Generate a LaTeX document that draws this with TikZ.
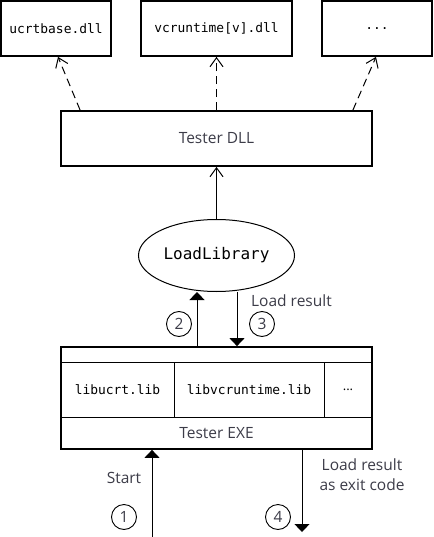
\documentclass[tikz,border=0pt]{standalone}
\usepackage{fontspec}
\setmainfont{Open Sans}
\setmonofont{DejaVu Sans Mono}
\usetikzlibrary{arrows.meta,shapes.geometric,calc}
\definecolor{txt}{RGB}{60,60,72}
\tikzset{
  box/.style={draw,line width=1.8pt,inner sep=0pt},
  lbl/.style={text=txt,font=\fontsize{15.5}{17}\selectfont,inner sep=0pt},
  code/.style={font=\ttfamily\fontsize{12.9}{15}\selectfont,inner sep=0pt},
  dep/.style={line width=1pt,dash pattern=on 8pt off 5pt,-{Straight Barb[length=9pt,width=13pt]}},
  call/.style={line width=1pt,-{Triangle[length=8pt,width=15pt]}},
  openarr/.style={line width=1pt,-{Straight Barb[length=9pt,width=13pt]}},
  num/.style={draw,circle,line width=0.9pt,minimum size=25pt,inner sep=0pt,text=txt,font=\fontsize{15.5}{17}\selectfont},
  thin/.style={line width=0.9pt}
}
\begin{document}
\begin{tikzpicture}[x=1pt,y=-1pt]
\useasboundingbox (0,0) rectangle (433,537);
% top DLLs
\node[box,minimum width=110pt,minimum height=55pt] (ucrt) at (56,28.5) {};
\node[code] (ucrtt) at (ucrt) {ucrtbase.dll};
\node[box,minimum width=151pt,minimum height=55pt] (vcr) at (216.5,28.5) {};
\node[code] (vcrt) at (vcr) {vcruntime[v].dll};
\node[box,minimum width=110pt,minimum height=55pt] (dots) at (377,28.5) {};
\node[code] (dotst) at (dots) {...};
% tester dll
\node[box,minimum width=311pt,minimum height=55pt] (dll) at (216.5,138.5) {};
\node[lbl] (dllt) at (dll) {Tester DLL};
\draw[dep] ([xshift=20pt]dll.north west) -- ([xshift=2pt]ucrt.south);
\draw[dep] (dll.north) -- (vcr.south);
\draw[dep] ([xshift=-20pt]dll.north east) -- ([xshift=-1pt]dots.south);
% LoadLibrary
\node[draw,ellipse,line width=1pt,minimum width=156pt,minimum height=72pt,inner sep=0pt,
      font=\ttfamily\fontsize{16}{18}\selectfont] (ll) at (216.5,255.5) {LoadLibrary};
\draw[openarr] (ll.north) -- (dll.south);
% tester exe
\node[box,minimum width=311pt,minimum height=102pt] (exe) at (216.5,398) {};
\coordinate (r1l) at (61,362);
\coordinate (r1r) at (372,362);
\coordinate (r2l) at (61,417);
\coordinate (r2r) at (372,417);
\draw[thin] (r1l) -- (r1r);
\draw[thin] (r2l) -- (r2r);
\coordinate (d1t) at (174,362);
\coordinate (d1b) at (174,417);
\coordinate (d2t) at (324,362);
\coordinate (d2b) at (324,417);
\draw[thin] (d1t) -- (d1b);
\draw[thin] (d2t) -- (d2b);
\node[code] (lib1) at (117.5,389.5) {libucrt.lib};
\node[code] (lib2) at (249,389.5) {libvcruntime.lib};
\node[code,font=\fontsize{13}{15}\selectfont] (lib3) at (348,389.5) {...};
\node[lbl] (exet) at (216.5,433) {Tester EXE};
% calls 2 and 3
\draw[call] (exe.north -| 197,0) -- (ll.south -| 197,0);
\draw[call] (ll.south -| 237,0) -- (exe.north -| 237,0);
\node[num] (n2) at (179,324) {2};
\node[num] (n3) at (262,324) {3};
\node[lbl,anchor=west] (lr) at (251,300.5) {Load result};
% start and exit
\coordinate (startpt) at (152,537);
\draw[call] (startpt) -- (exe.south -| startpt);
\node[lbl] (start) at (124,478) {Start};
\node[num] (n1) at (124,517) {1};
\coordinate (endpt) at (302,532);
\draw[call] (exe.south -| endpt) -- (endpt);
\node[num] (n4) at (278,517) {4};
\node[lbl,align=center,font=\fontsize{15.5}{20}\selectfont] (exitt) at (362,475) {Load result\\as exit code};
\end{tikzpicture}
\end{document}
